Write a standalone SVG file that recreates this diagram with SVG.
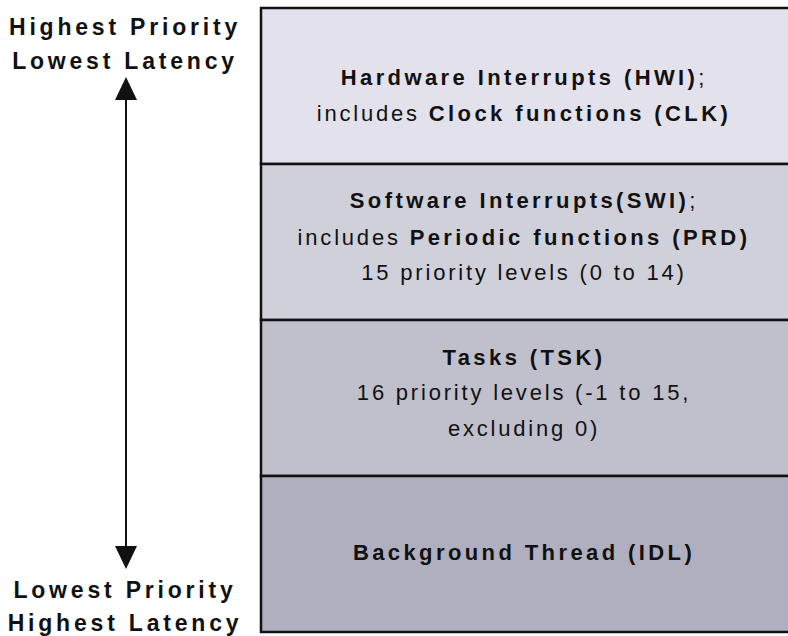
<svg xmlns="http://www.w3.org/2000/svg" width="788" height="636" viewBox="0 0 788 636">
  <defs>
    <style>
      text { font-family: "Liberation Sans", Arial, sans-serif; font-size: 22px; fill: #111; }
      .side { font-size: 23px; font-weight: bold; letter-spacing: 3.8px; text-anchor: middle; }
      .lvl { text-anchor: middle; letter-spacing: 2.8px; }
      .b { font-weight: bold; letter-spacing: 3.4px; }
      .band { stroke: #111; stroke-width: 2.5; }
    </style>
  </defs>

  <!-- priority axis labels -->
  <g id="top-label">
    <text class="side" x="125" y="35">Highest Priority</text>
    <text class="side" x="125" y="69">Lowest Latency</text>
  </g>
  <g id="bottom-label">
    <text class="side" x="125" y="598">Lowest Priority</text>
    <text class="side" x="125" y="631">Highest Latency</text>
  </g>

  <!-- double-headed priority arrow -->
  <g id="connectors">
    <line x1="126" y1="98" x2="126" y2="546" stroke="#111" stroke-width="2"/>
    <polygon points="126,77 115,100 137,100" fill="#111"/>
    <polygon points="126,569 115,546 137,546" fill="#111"/>
  </g>

  <!-- thread levels, highest priority on top -->
  <g id="hwi">
    <rect class="band" x="261" y="8" width="540" height="156" fill="#E3E2EC"/>
    <text class="lvl" x="524" y="85"><tspan class="b">Hardware Interrupts (HWI)</tspan>;</text>
    <text class="lvl" x="524" y="121">includes <tspan class="b">Clock functions (CLK)</tspan></text>
  </g>
  <g id="swi">
    <rect class="band" x="261" y="164" width="540" height="156" fill="#D0D0DB"/>
    <text class="lvl" x="524" y="208"><tspan class="b">Software Interrupts(SWI)</tspan>;</text>
    <text class="lvl" x="524" y="245">includes <tspan class="b">Periodic functions (PRD)</tspan></text>
    <text class="lvl" x="524" y="280">15 priority levels (0 to 14)</text>
  </g>
  <g id="tsk">
    <rect class="band" x="261" y="320" width="540" height="156" fill="#C0BFCC"/>
    <text class="lvl" x="524" y="365"><tspan class="b">Tasks (TSK)</tspan></text>
    <text class="lvl" x="524" y="400">16 priority levels (-1 to 15,</text>
    <text class="lvl" x="524" y="436">excluding 0)</text>
  </g>
  <g id="idl">
    <rect class="band" x="261" y="476" width="540" height="156" fill="#B0AFC0"/>
    <text class="lvl" x="524" y="560"><tspan class="b">Background Thread (IDL)</tspan></text>
  </g>
</svg>
